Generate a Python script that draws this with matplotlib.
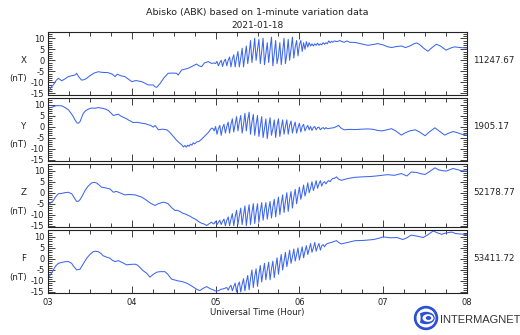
import matplotlib
matplotlib.use("Agg")
import matplotlib.pyplot as plt
from matplotlib.ticker import MultipleLocator, FixedLocator
from matplotlib.patches import Circle, Ellipse

# ---------------- data (minutes after 03:00 UT, nT variation) ----------------
X_t = [0, 2, 4, 6, 7.5, 9.8, 12, 14.6, 17, 19.3, 20.5, 22, 24, 26, 27.7, 30, 33, 36, 39, 43, 46, 48,
       49.6, 52, 55, 57, 60, 63, 67, 69, 71.8, 75.4, 76.5, 77.8, 80.2, 83, 86, 89, 92, 93.2, 95.7, 98,
       100.5, 103, 106.4, 108, 110, 112, 114.8, 117, 119,
       120, 121, 122, 123, 124, 125, 126, 127, 128, 129, 130, 131, 132, 133, 134, 135, 136, 137, 138,
       139, 140, 141, 142, 143, 144, 145, 146, 147, 148, 149, 150, 151, 152, 153, 154, 155, 156, 157,
       158, 159, 160, 161, 162, 163, 164, 165, 166, 167, 168, 169, 170, 171, 172, 173, 174, 175, 176,
       177, 178, 179, 180, 181, 182, 183, 184, 185, 186, 187, 188, 189, 190, 191, 192, 193, 194, 195,
       196, 197, 198, 199, 200, 201, 202, 203, 204, 205,
       207, 209, 210, 212, 214, 216, 220, 225, 229, 233, 236, 240, 243, 246, 249, 253, 256, 259, 262,
       264, 266, 269, 272, 275, 278, 281, 285, 288, 291, 295, 300]
X_v = [-15, -12.5, -11, -9, -8.2, -9.3, -8.5, -7.4, -7, -6.7, -5.9, -7.5, -9, -8.8, -8.2, -7, -5.8, -5.2,
       -5.5, -5.6, -6.3, -7.4, -6.3, -7, -7.4, -8.3, -9.7, -9.2, -9.7, -10.3, -11.2, -11.2, -12, -12.3,
       -10.6, -8, -5.9, -5.8, -5.9, -6.7, -4.4, -4, -3.6, -2.8, -1.7, -2.5, -2.9, -1.2, -0.6, -1.4, -1.2,
       -1.5, -0.5, -2.5, -1, 0, -2.8, -0.5, 0.5, -2.5, 0, 1.5, -3, 0.5, 2.5, -3, 1, 4, -3, 1, 5.5,
       -3, 2, 6.5, -1.5, 3, 9, -1, 4, 10, 0, 5, 9.5, -1.5, 4, 10, -2, 3, 8, -1, 5, 10.5, -2.5, 3, 9,
       -1.5, 2, 8, -2, 4, 10, -1.5, 3, 9.5, 0, 5, 10.5, 1, 6, 9, 2, 7, 9, 4, 8, 5, 8.5, 6, 8, 6.5,
       7.5, 6.5, 7.5, 6.8, 7.8, 6.8, 7.5, 7, 8, 7.3, 8, 7.5, 8.8, 8, 8.6, 8.2, 8.8,
       8.5, 9, 8.6, 8.2, 8.8, 8.2, 8.1, 7.4, 6.8, 7.2, 7.6, 7, 6.2, 5.8, 6.2, 6.5, 5.8, 6.5, 7.5,
       7.9, 7.2, 5.5, 4.1, 5.8, 7.3, 6.5, 4.6, 5.5, 6.1, 5.8, 5.6]

Y_t = [0, 3, 6, 9.8, 12, 14.6, 16.5, 18.1, 19.5, 21, 22, 23, 24, 25.3, 27, 28.9, 31, 33.6, 36, 39.6,
       41.5, 43.2, 45, 46.8, 48.5, 50.3, 52, 53.9, 56, 58, 61, 64, 67, 69.5, 71.8, 73.5, 75.4, 76.6,
       78, 79, 82, 85, 87, 89.7, 92, 94, 95.7, 97, 98, 99, 100, 101, 102, 103, 104, 105, 106.5, 108,
       110, 112, 114.8, 117,
       118, 119, 120, 121, 122, 123, 124, 125, 126, 127, 128, 129, 130, 131, 132, 133, 134, 135, 136,
       137, 138, 139, 140, 141, 142, 143, 144, 145, 146, 147, 148, 149, 150, 151, 152, 153, 154, 155,
       156, 157, 158, 159, 160, 161, 162, 163, 164, 165, 166, 167, 168, 169, 170, 171, 172, 173, 174,
       175, 176, 177, 178, 179, 180, 181, 182, 183, 184, 185, 186, 187, 188, 189, 190, 191, 192, 193,
       194, 195, 196, 197, 198, 199, 200,
       202, 205, 208, 210, 212, 216, 220, 225, 229, 233, 236, 239, 242, 246, 249, 253, 256, 259, 263,
       266, 270, 273, 277, 280, 284, 287, 290, 293, 296, 300]
Y_v = [8.3, 8.8, 9.5, 9.4, 8.7, 7.6, 6, 4.5, 2.8, 1.5, 1.6, 2.3, 4, 6, 7.2, 7.9, 8.4, 8.3, 8.6, 8.2,
       7.8, 7.3, 6.2, 5, 5.3, 5.6, 4.8, 4.2, 3.6, 2.8, 1.8, 1.9, 1.5, 1.3, 0.8, 0.5, -0.3, 0.5,
       -0.6, -1.5, -1.2, -1.5, -2.5, -4.5, -6.2, -7.4, -8.3, -9.3, -8.6, -9.4, -8.5, -9, -8, -8.5,
       -7.4, -7.9, -7, -6.8, -5.8, -4.5, -2.7, -0.8,
       -0.8, -2, 0, -3.5, -1, 0.5, -4, -0.5, 1, -3, 0, 2, -3, 1, 3.5, -2.5, 1, 4.5, -2, 2, 5, -3,
       1, 6, -2, 3, 6.5, -3.5, 2, 5.5, -4, 1, 5, -4.5, 0, 4.5, -5, -1, 3.5, -5.5, 0, 4, -4, -1, 3,
       -5, 0.5, 3.5, -4.5, -0.5, 3, -3.5, 0, 3, -3.5, 0.5, 2.5, -3, 0, 2, -3, -0.5, 1.5, -2.5, 0,
       1, -2, -0.5, 0.5, -1.5, 0, -1.8, -0.5, 0, -1.5, -0.5, -0.3, -1.5, -0.8, -0.5, -1.2, -0.5, -1.0,
       -0.8, -0.5, 0.5, -0.8, -1.5, -1.3, -1.4, -1.2, -1.1, -1.3, -1.8, -2, -1.6, -1, -2, -3.9,
       -2.8, -2, -1.5, -2.5, -4.2, -2.5, -0.6, -2, -3.9, -3, -2.3, -2.8, -3.5, -3.9]

Z_t = [0, 2, 3.8, 5.5, 7.4, 10, 12, 14.5, 17, 18.5, 20.5, 22, 23, 24.5, 26.5, 28.5, 31.3, 33, 34.9,
       36.5, 38.4, 41, 44.4, 45.5, 46.8, 49, 52, 55, 58, 62.3, 65, 67, 69.5, 71.8, 74, 76.6, 79, 82.6,
       84, 86, 88.5, 91, 92.5, 94.5, 96, 98, 100, 102, 104, 106, 108, 110, 112, 113.6, 115, 117, 118.5,
       119, 120, 121, 122, 123, 124, 125, 126, 127, 128, 129, 130, 131, 132, 133, 134, 135, 136, 137,
       138, 139, 140, 141, 142, 143, 144, 145, 146, 147, 148, 149, 150, 151, 152, 153, 154, 155, 156,
       157, 158, 159, 160, 161, 162, 163, 164, 165, 166, 167, 168, 169, 170, 171, 172, 173, 174, 175,
       176, 177, 178, 179, 180, 181, 182, 183, 184, 185, 186, 187, 188, 189, 190, 191, 192, 193, 194,
       195, 196, 197, 198, 199, 200, 201, 202, 203, 204, 205,
       206.6, 208, 210, 213, 216, 220, 225, 231.7, 235, 239, 243, 248, 253, 257, 260, 264, 267, 270,
       273, 277, 280, 285, 288, 290, 293, 296, 300]
Z_v = [-5.8, -4.5, -3.6, -1.8, -0.5, -0.3, 0, 0.2, -0.5, -2, -4, -3.8, -3.1, -1.5, 1, 2.8, 4.5, 4.7,
       4.4, 3.5, 2.5, 2.2, 1.7, 1, 0.2, 0.6, -0.2, -1, -0.8, -1, -1.6, -2, -3, -4, -5, -5.8, -5, -4.3,
       -4.5, -5, -6.8, -8.1, -8, -8.5, -9.2, -9.6, -10.2, -10.8, -11.6, -12.2, -13.2, -13.9, -14.3,
       -14.9, -14.3, -13.4, -14.2,
       -14, -13, -14.5, -13.5, -12.5, -14.5, -13, -12, -15, -12.5, -11, -15, -12, -9.5, -15, -11, -8,
       -14.5, -10.5, -7, -14.5, -10, -6, -15, -9.5, -5.5, -14.5, -9, -5, -14, -9, -5, -13.5, -8.5,
       -4.5, -12.5, -8, -4.5, -12, -7.5, -4, -11.5, -6.5, -3, -11, -6, -2, -10, -5, -1, -9, -4, 0,
       -8.5, -3, 0.5, -7, -2, 1.5, -5, -1, 2.5, -3, 0, 3.5, -1.5, 1, 4.5, 0, 2, 5, 1, 3, 5.5, 2, 4,
       5.5, 3, 4.5, 5, 4, 5, 5.5, 5, 6, 6.5, 6.5,
       7.2, 6.2, 5.6, 6.2, 6.6, 7, 7.2, 7.4, 7.6, 7.9, 8.2, 7.9, 8.7, 7.6, 9.4, 9.2, 8.6, 8.3,
       9.5, 11.3, 10.3, 9.8, 10.5, 11, 10.5, 10, 9.8]

F_t = [0, 2, 3.8, 5.5, 7.4, 10, 12, 14.5, 16.9, 18.5, 20.5, 22.9, 25, 27.7, 30, 32.4, 34, 36, 38,
       39.6, 42, 44.4, 46, 48, 50.3, 53, 56.3, 59, 62.3, 64, 66, 68, 70.6, 73, 75.4, 78, 80.2, 83.7,
       85.5, 88.5, 91, 93.2, 96, 99.3, 102, 105.2, 107, 108.8, 111, 113.6, 116, 118.3, 120, 122, 124,
       126, 128,
       129, 130, 131, 132, 133, 134, 135, 136, 137, 138, 139, 140, 141, 142, 143, 144, 145, 146, 147,
       148, 149, 150, 151, 152, 153, 154, 155, 156, 157, 158, 159, 160, 161, 162, 163, 164, 165, 166,
       167, 168, 169, 170, 171, 172, 173, 174, 175, 176, 177, 178, 179, 180, 181, 182, 183, 184, 185,
       186, 187, 188, 189, 190, 191, 192, 193, 194, 195, 196, 197, 198, 199, 200,
       203, 206.6, 208, 210, 214, 220, 226, 233, 237, 240, 245, 250, 254, 257, 260, 264, 268.7, 272,
       275.8, 279, 281.8, 285, 289, 292, 296, 300]
F_v = [-8.8, -7, -5, -3.2, -2, -1.6, -1.3, -1.2, -2, -3.5, -5, -4.7, -2.5, 0.3, 2, 3.3, 3.5, 3.3, 2.4,
       1.4, 0.8, 0.3, -0.6, -1.2, -0.8, -1.6, -2.7, -2.5, -2.4, -2.8, -4, -5.3, -6.5, -8.3, -7, -6,
       -5.8, -5.8, -6.8, -9.2, -9.6, -10, -10.3, -11, -12, -13.3, -14, -14.4, -13.4, -12.6, -13.5,
       -14.1, -14.6, -14.5, -13.8, -13.5, -13,
       -14.2, -12.8, -12, -14.5, -12.5, -11, -15, -12, -10.5, -15, -11.5, -9, -14.5, -10.5, -7.5,
       -14, -9, -5, -13, -8, -4.5, -12.5, -7, -3, -10.5, -6, -2, -9.5, -5, -1.5, -9.5, -4.5, -1,
       -8.5, -3.5, 0.5, -7, -2, 2, -5, -1, 3, -3.5, 0, 4, -2, 1, 4.5, -1, 2, 5, -0.5, 2.5, 5.5, 0.5,
       3.5, 6, 2, 4.5, 7, 3, 5, 7.5, 3.5, 5.5, 7, 4, 6, 6.5, 5.5, 6.5, 7,
       7.5, 8.3, 7.5, 6.8, 7.4, 8.3, 8.4, 8.8, 9.4, 10, 9.6, 9.7, 8.8, 9.6, 10.8, 10.4, 9.7, 11,
       12.7, 11.8, 11.2, 11.8, 12.2, 11.5, 11.3, 11]

components = ["X", "Y", "Z", "F"]
baselines = ["11247.67", "1905.17", "52178.77", "53411.72"]
hour_ticks = [3, 4, 5, 6, 7, 8]
hour_labels = ["03", "04", "05", "06", "07", "08"]
title = "Abisko (ABK) based on 1-minute variation data"
date_str = "2021-01-18"
xlabel = "Universal Time (Hour)"

series_t = [X_t, Y_t, Z_t, F_t]
series_v = [X_v, Y_v, Z_v, F_v]

# ---------------- layout ----------------
W, H = 520, 335
plt.rcParams['font.family'] = ['DejaVu Sans']
plt.rcParams['axes.unicode_minus'] = False
fig = plt.figure(figsize=(W / 100, H / 100), dpi=100)
fig.patch.set_facecolor("white")

def fx(px):
    return px / W

def fy(py):
    return 1 - py / H

LEFT, RIGHT = 48, 467
YMIN, YMAX = -15.6, 13.0
PXU = 2.2
zero_px = [60.3 + 66.2 * i for i in range(4)]
line_color = "#3d66ee"
txt = "#222222"
tick_fs = 6

for i, comp in enumerate(components):
    top = zero_px[i] - YMAX * PXU
    bot = zero_px[i] - YMIN * PXU
    ax = fig.add_axes([fx(LEFT), fy(bot), fx(RIGHT) - fx(LEFT), (bot - top) / H])
    t_hours = [3 + t / 60.0 for t in series_t[i]]
    ax.plot(t_hours, series_v[i], color=line_color, lw=0.75)
    ax.set_xlim(3, 8)
    ax.set_ylim(YMIN, YMAX)
    ax.yaxis.set_major_locator(FixedLocator([-15, -10, -5, 0, 5, 10]))
    ax.yaxis.set_minor_locator(MultipleLocator(1))
    ax.xaxis.set_major_locator(FixedLocator(hour_ticks))
    ax.xaxis.set_minor_locator(MultipleLocator(0.25))
    ax.tick_params(which="both", direction="in", top=True, right=True, bottom=True, left=True,
                   colors=txt, width=0.6, labelsize=tick_fs, labelcolor=txt)
    ax.tick_params(which="major", length=5)
    ax.tick_params(which="minor", length=2.8)
    ax.tick_params(axis="y", pad=2.5)
    ax.tick_params(axis="x", pad=3.2)
    for s in ax.spines.values():
        s.set_linewidth(0.8)
        s.set_color(txt)
    if i == 3:
        ax.set_xticklabels(hour_labels)
    else:
        ax.set_xticklabels([])
    ax.set_facecolor("white")
    fig.text(fx(24), fy(zero_px[i]), comp, ha="center", va="center", fontsize=6.3, color=txt)
    fig.text(fx(18.5), fy(zero_px[i] + 18.5), "(nT)", ha="center", va="center", fontsize=6.3,
             color=txt)
    fig.text(fx(473), fy(zero_px[i]), baselines[i], ha="left", va="center", fontsize=6.3,
             color=txt)

fig.text(fx(257.5), fy(12), title, ha="center", va="center", fontsize=6.8, color=txt)
fig.text(fx(257.5), fy(25), date_str, ha="center", va="center", fontsize=6.5, color=txt)
fig.text(fx(257.5), fy(312), xlabel, ha="center", va="center", fontsize=6.2, color=txt)

# INTERMAGNET logo
lax = fig.add_axes([fx(412), fy(332), fx(28), 28 / H])
lax.set_xlim(-14, 14)
lax.set_ylim(-14, 14)
lax.set_aspect("equal")
lax.axis("off")
blue = "#2b4fd8"
lax.add_patch(Circle((0, 0), 11.5, color=blue))
lax.add_patch(Circle((0, 0), 8.8, color="white"))
lax.add_patch(Ellipse((0, 0), 16, 11, color=blue))
lax.add_patch(Ellipse((2, 0), 9.5, 6.2, color="white"))
lax.add_patch(Ellipse((2.5, 0), 4, 2.5, color=blue))
lax.add_patch(Ellipse((-7.2, 0), 2.2, 8.5, color="white"))
fig.text(fx(440), fy(320), "INTERMAGNET", ha="left", va="center", fontsize=8,
         family=["Liberation Sans Narrow", "Liberation Sans"], color="#333333")

fig.savefig("out.png", dpi=100, facecolor="white")
